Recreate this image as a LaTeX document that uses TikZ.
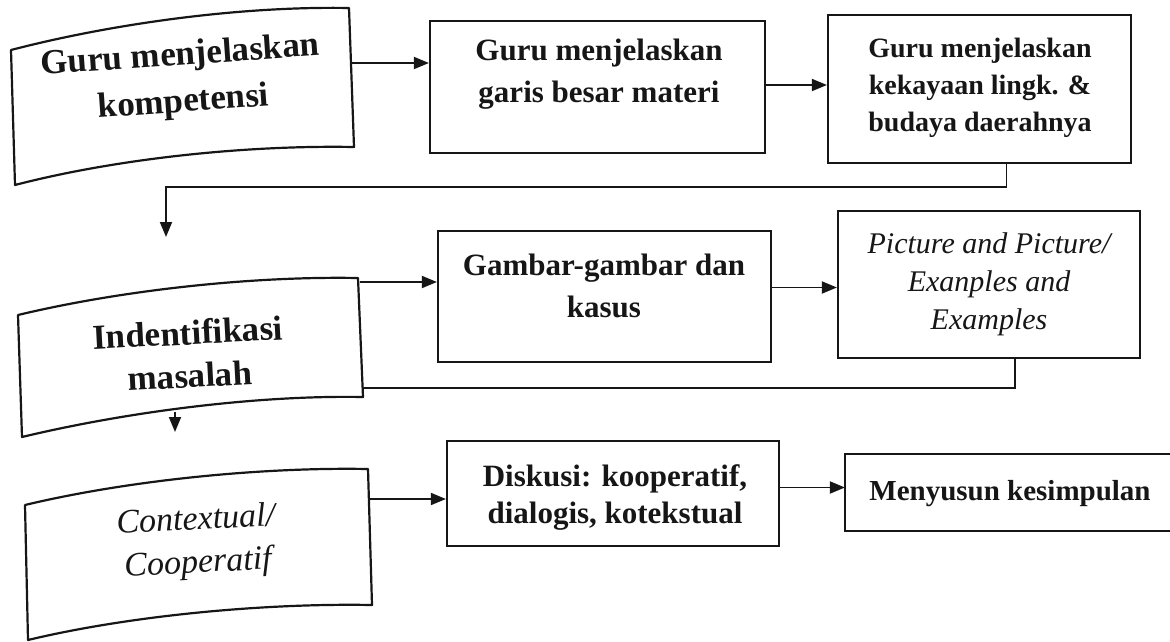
\documentclass[tikz,border=0pt]{standalone}
\usepackage{fontspec}
\setmainfont{Liberation Serif}
\usepackage{xcolor}
\definecolor{Ink}{RGB}{22,22,22}
\usetikzlibrary{arrows.meta}
\tikzstyle{Box}=[draw=Ink,line width=2.2pt,inner sep=0pt]
\tikzstyle{Tape}=[draw=Ink,line width=2.2pt,line join=round]
\tikzstyle{Edge}=[draw=Ink,line width=1.8pt]
\tikzstyle{Arrow}=[Edge,-{Triangle[length=15pt,width=12pt]}]
\tikzstyle{Text}=[align=center,inner sep=0pt,text=Ink,
font={\bfseries\fontsize{31}{42}\selectfont}]
\tikzstyle{TextIt}=[Text,font={\itshape\fontsize{30}{38}\selectfont}]

\begin{document}
\begin{tikzpicture}[x=1pt,y=-1pt]
        \useasboundingbox (0,0) rectangle (1170,642);
        \draw[Tape](11,50).. controls +(100,-26) and +(-110,-2) ..(349,8)
            --(354,147).. controls +(-110,-2) and +(100,-26) ..(15,185)--cycle;
        \draw[Tape](18,315).. controls +(100,-24) and +(-110,-2) ..(358,278)
            --(363,397).. controls +(-110,-2) and +(100,-24) ..(22,437)--cycle;
        \draw[Tape](25,505).. controls +(100,-24) and +(-110,-2) ..(368,469)
            --(372,605).. controls +(-110,-2) and +(100,-24) ..(28,640)--cycle;
        \node[Text,rotate=4,font={\bfseries\fontsize{35}{47}\selectfont}]
            (A)at(182,80){Guru menjelaskan\\kompetensi};
        \node[Text,rotate=3,font={\bfseries\fontsize{35}{43}\selectfont}]
            (D)at(189,354){Indentifikasi\\masalah};
        \node[TextIt,rotate=3,font={\itshape\fontsize{34}{43}\selectfont}]
            (G)at(197,543){Contextual/\\Cooperatif};
        \node[Box,minimum width=335pt,minimum height=132pt](B)at(597.5,87){};
        \node[Box,minimum width=303pt,minimum height=148pt](C)at(979.5,89){};
        \node[Box,minimum width=333pt,minimum height=131pt](E)at(604.5,296.5){};
        \node[Box,minimum width=302pt,minimum height=147pt](F)at(989,284.5){};
        \node[Box,minimum width=332pt,minimum height=105pt](H)at(613,493.5){};
        \node[Box,draw=none,minimum width=340pt,minimum height=75pt](I)
            at(1016,492.5){};
        \draw[Box](I.north east)--(I.north west)--(I.south west)--(I.south east);
        \node[Text](Bt)at(599,74){Guru menjelaskan\\garis besar materi};
        \node[Text,font={\bfseries\fontsize{28}{37}\selectfont}](Ct)at(980,88)
            {Guru menjelaskan\\kekayaan lingk. \&\\budaya daerahnya};
        \node[Text](Et)at(604,286){Gambar-gambar dan\\kasus};
        \node[TextIt](Ft)at(989,284){Picture and Picture/\\Exanples and\\Examples};
        \node[Text,font={\bfseries\fontsize{31}{37}\selectfont}](Ht)at(615,498)
            {Diskusi: kooperatif,\\dialogis, kotekstual};
        \node[Text,font={\bfseries\fontsize{29}{36}\selectfont}](It)at(1010,494)
            {Menyusun kesimpulan};
        \coordinate(A-r)at(352,63);
        \coordinate(D-in)at(166,237);
        \coordinate(D-r1)at(360,282);
        \coordinate(D-r2)at(362,388);
        \coordinate(D-b)at(175,412);
        \coordinate(G-r)at(370,499);
        \draw[Arrow](A-r)--(A-r -| B.west);
        \draw[Arrow]([yshift=2pt]B.east)--([yshift=2pt]B.east -| C.west);
        \draw[Arrow]([xshift=27pt]C.south)--++(0,23)-|(D-in);
        \draw[Arrow](D-r1)--(D-r1 -| E.west);
        \draw[Arrow]([yshift=9pt]E.east)--([yshift=9pt]E.east -| F.west);
        \draw[Edge]([xshift=26pt]F.south)|-(D-r2);
        \draw[Arrow](D-b)--++(0,20);
        \draw[Arrow](G-r)--(G-r -| H.west);
        \draw[Arrow]([yshift=6pt]H.east)--([yshift=6pt]H.east -| I.west);
    \end{tikzpicture}
\end{document}
